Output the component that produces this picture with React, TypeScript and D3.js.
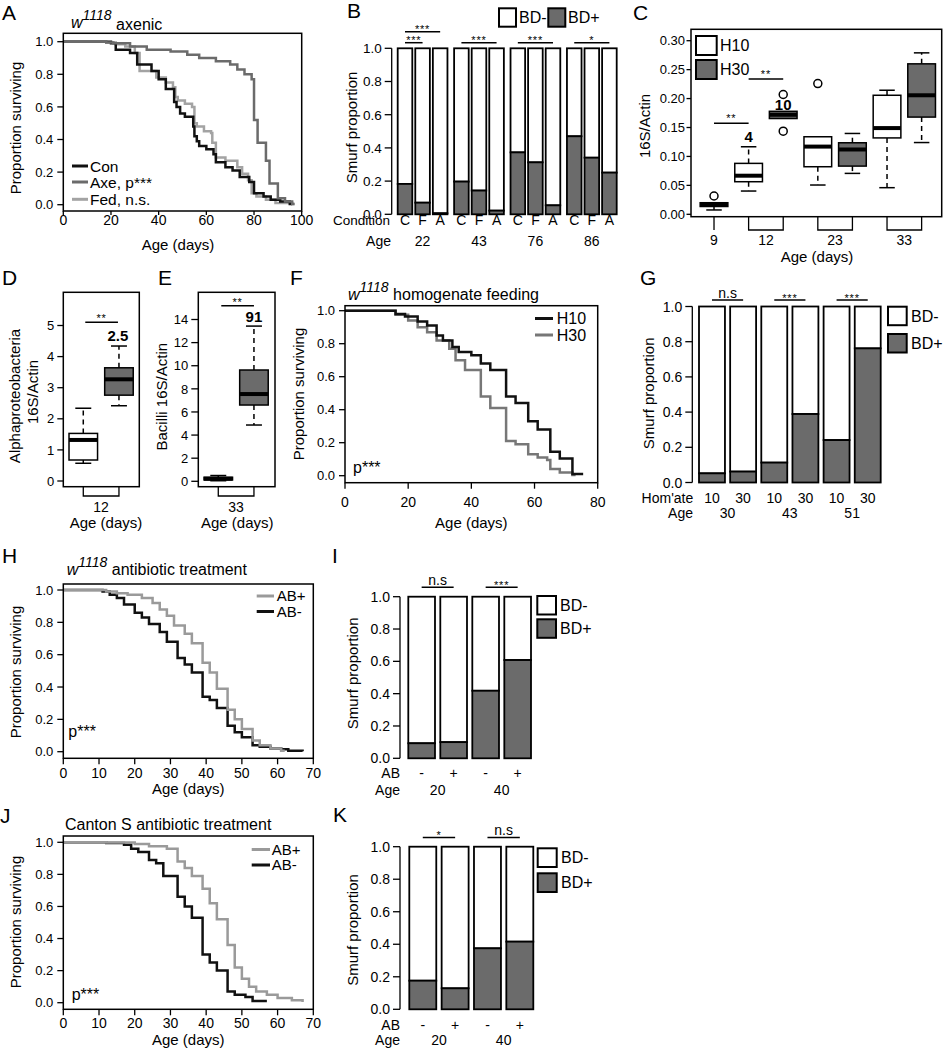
import React from "react";
import * as d3 from "d3";

type Pt = [number, number];

// ---------------- DATA ----------------
// Panel A: Kaplan-Meier steps [age, proportion surviving]
const A_CON: Pt[] = [[0,1],[20,0.99],[22,0.95],[28,0.93],[31,0.86],[37,0.82],[40,0.77],[43,0.71],[46.5,0.63],[47.5,0.6],[49,0.56],[51,0.54],[54.5,0.48],[55,0.42],[56,0.39],[57,0.36],[60,0.34],[63,0.31],[64,0.26],[68,0.23],[71,0.21],[74,0.17],[78,0.14],[80,0.07],[84,0.05],[87,0.03],[91,0.02],[95,0.005],[96,0.005]];
const A_AXE: Pt[] = [[0,1],[18,0.995],[21,0.99],[28,0.97],[35,0.95],[45,0.94],[52,0.92],[57,0.9],[64,0.88],[70,0.86],[73,0.83],[76,0.8],[79,0.77],[80,0.52],[81.5,0.38],[85,0.27],[86.5,0.13],[90,0.04],[93,0.02],[96,0.004],[97,0.004]];
const A_FED: Pt[] = [[0,1],[18,0.995],[22,0.985],[26,0.97],[30,0.93],[32,0.82],[39,0.78],[43,0.75],[46,0.72],[47,0.66],[48,0.64],[51,0.62],[54,0.6],[55,0.5],[56,0.48],[59,0.45],[62,0.44],[62.5,0.38],[64,0.29],[68,0.27],[73,0.23],[75,0.19],[77.5,0.15],[79,0.07],[81,0.05],[85,0.03],[89,0.01],[96,0.004],[97,0.004]];
const A_LEGEND = ["Con", "Axe, p***", "Fed, n.s."];

// Panel B: Smurf proportions (BD+)
const B_AGES = ["22", "43", "76", "86"];
const B_CONDITIONS = ["C", "F", "A"];
const B_BDPLUS_C = [0.183, 0.197, 0.373, 0.47];
const B_BDPLUS_F = [0.07, 0.143, 0.313, 0.341];
const B_BDPLUS_A = [0.006, 0.022, 0.054, 0.251];
const B_SIG_AGE = ["22", "22", "43", "76", "86"];
const B_SIG_TO = ["F", "A", "A", "A", "A"];
const B_SIG_LEVEL = [0, 1, 0, 0, 0];
const B_SIG_LABEL = ["***", "***", "***", "***", "*"];

// Panel C: 16S/Actin boxplots
const C_AGES = ["9", "12", "23", "33"];
const C_BOX_AGE = ["9", "12", "12", "23", "23", "33", "33"];
const C_BOX_GROUP = ["H10", "H10", "H30", "H10", "H30", "H10", "H30"];
const C_LOW = [0.0075, 0.0402, 0.1655, 0.0506, 0.0707, 0.046, 0.124];
const C_Q1 = [0.0135, 0.0563, 0.1655, 0.0822, 0.0833, 0.132, 0.168];
const C_MED = [0.0165, 0.0667, 0.172, 0.117, 0.112, 0.149, 0.2057];
const C_Q3 = [0.02, 0.088, 0.178, 0.134, 0.1236, 0.2057, 0.26];
const C_HIGH = [0.02, 0.1167, 0.178, 0.134, 0.1397, 0.2144, 0.279];
const C_OUTLIERS: number[][] = [[0.0316], [], [0.207, 0.1437], [0.226], [], [], []];
const C_NOTES = ["", "4", "10", "", "", "", ""];

// Panel D: Alphaproteobacteria
const D_GROUP = ["H10", "H30"];
const D_LOW = [0.57, 2.42];
const D_Q1 = [0.675, 2.76];
const D_MED = [1.32, 3.27];
const D_Q3 = [1.53, 3.64];
const D_HIGH = [2.34, 4.34];

// Panel E: Bacilli
const E_GROUP = ["H10", "H30"];
const E_LOW = [0.05, 4.87];
const E_Q1 = [0.12, 6.6];
const E_MED = [0.22, 7.55];
const E_Q3 = [0.35, 9.63];
const E_HIGH = [0.5, 13.43];

// Panel F
const F_H10: Pt[] = [[0,1],[16,0.98],[19,0.965],[23,0.935],[26,0.91],[29,0.85],[31,0.82],[34,0.78],[36,0.75],[40,0.73],[43,0.68],[46,0.64],[51,0.48],[54,0.44],[58,0.33],[61,0.28],[65,0.145],[68,0.105],[72,0.01],[75,0.003]];
const F_H30: Pt[] = [[0,1],[16,0.975],[20,0.94],[23,0.9],[26,0.87],[29,0.82],[33,0.77],[35,0.7],[38,0.64],[43,0.48],[46,0.41],[51,0.21],[54,0.19],[58,0.13],[61,0.11],[64,0.095],[65,0.04],[68,0.02],[72,0.004],[73,0.004]];

// Panel G
const G_HOM = ["10", "30", "10", "30", "10", "30"];
const G_AGES = ["30", "43", "51"];
const G_BDPLUS = [0.052, 0.062, 0.113, 0.389, 0.241, 0.762];
const G_SIG = ["n.s", "***", "***"];

// Panel H
const H_ABP: Pt[] = [[0,1],[12,0.99],[15,0.98],[18,0.97],[22,0.95],[25,0.92],[27,0.88],[29,0.84],[31,0.78],[34,0.73],[36,0.67],[39,0.55],[41,0.49],[43,0.39],[46,0.26],[48,0.2],[50,0.14],[53,0.07],[55,0.04],[58,0.02],[61,0.006],[62,0.006]];
const H_ABM: Pt[] = [[0,1],[11,0.99],[13,0.97],[15,0.95],[17,0.91],[20,0.86],[22,0.83],[24,0.79],[27,0.74],[29,0.68],[32,0.58],[34,0.54],[36,0.49],[39,0.34],[41,0.32],[43,0.27],[46,0.16],[48,0.12],[50,0.09],[53,0.04],[55,0.03],[58,0.02],[61,0.015],[63,0.006],[67,0.003]];

// Panel I
const I_AB = ["-", "+", "-", "+"];
const I_AGES = ["20", "40"];
const I_BDPLUS = [0.093, 0.1, 0.418, 0.608];
const I_SIG = ["n.s", "***"];

// Panel J
const J_ABP: Pt[] = [[0,1],[12,0.998],[20,0.99],[24,0.975],[29,0.96],[32,0.88],[34,0.84],[36,0.79],[39,0.71],[41,0.62],[43,0.52],[46,0.36],[48,0.22],[50,0.15],[52,0.1],[54,0.07],[57,0.05],[60,0.03],[64,0.015],[67,0.005]];
const J_ABM: Pt[] = [[0,1],[12,0.995],[17,0.985],[19,0.96],[21,0.94],[24,0.89],[26,0.87],[28,0.79],[32,0.66],[34,0.6],[36,0.53],[39,0.3],[41,0.25],[43,0.2],[46,0.07],[48,0.05],[51,0.035],[53,0.01],[57,0.01]];

// Panel K
const K_AB = ["-", "+", "-", "+"];
const K_AGES = ["20", "40"];
const K_BDPLUS = [0.176, 0.129, 0.375, 0.416];
const K_SIG = ["*", "n.s"];

// ---------------- STYLE ----------------
const FONT = "'Liberation Sans', Arial, Helvetica, sans-serif";
const BLACK = "#111";
const DARK = "#6b6b6b";
const LIGHT = "#a3a3a3";
const GRAYLINE = "#9a9a9a";
const MIDLINE = "#777";

function YAxis({ x, scale, ticks, fmt, fs = 13, len = 6, gap = 3, line = false }: any) {
  return (
    <g>
      {line && (
        <line x1={x} x2={x} y1={scale(ticks[0])} y2={scale(ticks[ticks.length - 1])} stroke="#000" strokeWidth={1.3} />
      )}
      {ticks.map((t: number) => (
        <g key={t}>
          <line x1={x - len} x2={x} y1={scale(t)} y2={scale(t)} stroke="#000" strokeWidth={1.3} />
          <text x={x - len - gap} y={scale(t) + fs * 0.36} textAnchor="end" fontSize={fs}>
            {fmt(t)}
          </text>
        </g>
      ))}
    </g>
  );
}

function Survival({ l, r, t, b, y0, y1, xMax, xStep, tickLen, xLabBase, titleBase, titleX, yLabX, yLabCY, series }: any) {
  const x = d3.scaleLinear().domain([0, xMax]).range([l, r]);
  const y = d3.scaleLinear().domain([0, 1]).range([y0, y1]);
  const line = d3
    .line<Pt>()
    .x((d) => x(d[0]))
    .y((d) => y(d[1]))
    .curve(d3.curveStepAfter);
  const xt = d3.range(0, xMax + 0.01, xStep);
  return (
    <g>
      {series.map((s: any, i: number) => (
        <path key={i} d={line(s.data) || ""} fill="none" stroke={s.color} strokeWidth={2.5} />
      ))}
      <rect x={l} y={t} width={r - l} height={b - t} fill="none" stroke="#000" strokeWidth={1.5} />
      <YAxis x={l} scale={y} ticks={[0, 0.2, 0.4, 0.6, 0.8, 1]} fmt={(v: number) => v.toFixed(1)} fs={13} len={6} gap={4} />
      {xt.map((v: number) => (
        <g key={v}>
          <line x1={x(v)} x2={x(v)} y1={b} y2={b + tickLen} stroke="#000" strokeWidth={1.3} />
          <text x={x(v)} y={xLabBase} textAnchor="middle" fontSize={14}>
            {v}
          </text>
        </g>
      ))}
      <text x={titleX ?? (l + r) / 2} y={titleBase} textAnchor="middle" fontSize={15}>
        Age (days)
      </text>
      <text transform={`translate(${yLabX},${yLabCY}) rotate(-90)`} textAnchor="middle" fontSize={15}>
        Proportion surviving
      </text>
    </g>
  );
}

function LineLegend({ x1, x2, tx, items, fs = 15 }: any) {
  return (
    <g>
      {items.map((it: any, i: number) => (
        <g key={i}>
          <line x1={x1} x2={x2} y1={it.y} y2={it.y} stroke={it.color} strokeWidth={3} />
          <text x={tx} y={it.y + fs * 0.36} fontSize={fs}>
            {it.label}
          </text>
        </g>
      ))}
    </g>
  );
}

function StackBar({ x, w, v, y }: any) {
  return (
    <g>
      <rect x={x} y={y(1)} width={w} height={y(v) - y(1)} fill="#fff" stroke="#000" strokeWidth={1.8} />
      <rect x={x} y={y(v)} width={w} height={y(0) - y(v)} fill={DARK} stroke="#000" strokeWidth={1.8} />
    </g>
  );
}

function Sig({ x1, x2, y, label, starDy = 1.5 }: any) {
  const stars = label.includes("*");
  return (
    <g>
      <line x1={x1} x2={x2} y1={y} y2={y} stroke="#000" strokeWidth={1.5} />
      <text
        x={(x1 + x2) / 2}
        y={stars ? y + starDy : y - 2.5}
        textAnchor="middle"
        fontSize={stars ? 11 : 14}
        letterSpacing={stars ? 0.8 : 0}
      >
        {label}
      </text>
    </g>
  );
}

function BoxLegend({ x, tops, w, h, labels, tx, fs = 16 }: any) {
  return (
    <g>
      {labels.map((lab: string, i: number) => (
        <g key={lab}>
          <rect x={x} y={tops[i]} width={w} height={h} fill={i === 0 ? "#fff" : DARK} stroke="#000" strokeWidth={2} />
          <text x={tx} y={tops[i] + h / 2 + fs * 0.36} fontSize={fs}>
            {lab}
          </text>
        </g>
      ))}
    </g>
  );
}

function BoxPlot({ cx, w, lo, q1, med, q3, hi, fill, y, outliers = [] }: any) {
  const sw = w * 0.28;
  return (
    <g>
      {hi > q3 && (
        <>
          <line x1={cx} x2={cx} y1={y(q3)} y2={y(hi)} stroke="#000" strokeWidth={1.5} strokeDasharray="5,4" />
          <line x1={cx - sw} x2={cx + sw} y1={y(hi)} y2={y(hi)} stroke="#000" strokeWidth={1.5} />
        </>
      )}
      {lo < q1 && (
        <>
          <line x1={cx} x2={cx} y1={y(q1)} y2={y(lo)} stroke="#000" strokeWidth={1.5} strokeDasharray="5,4" />
          <line x1={cx - sw} x2={cx + sw} y1={y(lo)} y2={y(lo)} stroke="#000" strokeWidth={1.5} />
        </>
      )}
      <rect x={cx - w / 2} y={y(q3)} width={w} height={Math.max(1, y(q1) - y(q3))} fill={fill} stroke="#000" strokeWidth={1.5} />
      <line x1={cx - w / 2} x2={cx + w / 2} y1={y(med)} y2={y(med)} stroke="#000" strokeWidth={4} />
      {outliers.map((o: number, i: number) => (
        <circle key={i} cx={cx} cy={y(o)} r={4} fill="#fff" stroke="#000" strokeWidth={1.5} />
      ))}
    </g>
  );
}

function Letter({ x, y, ch }: any) {
  return (
    <text x={x} y={y} fontSize={21}>
      {ch}
    </text>
  );
}

function WTitle({ x, y, rest, restDy = 0 }: any) {
  return (
    <text x={x} y={y} fontSize={16}>
      <tspan fontStyle="italic">w</tspan>
      <tspan fontStyle="italic" fontSize={14} dy={-8}>
        1118
      </tspan>
      <tspan dy={8 + restDy}>{" " + rest}</tspan>
    </text>
  );
}

export default function App() {
  // ---- B ----
  const bX = d3.scaleBand<string>().domain(B_AGES).range([397.7, 616.7]).paddingInner(0.118);
  const bIn = d3.scaleBand<string>().domain(B_CONDITIONS).range([0, bX.bandwidth()]).paddingInner(0.17);
  const bY = d3.scaleLinear().domain([0, 1]).range([214.3, 48.3]);
  const bVals = [B_BDPLUS_C, B_BDPLUS_F, B_BDPLUS_A];
  const bCenter = (age: string, c: string) => (bX(age) as number) + (bIn(c) as number) + bIn.bandwidth() / 2;

  // ---- C ----
  const cX = d3.scaleLinear().domain([0.335, 7.58]).range([691, 941.7]);
  const cY = d3.scaleLinear().domain([0, 0.3]).range([214.3, 40.7]);
  const cW = cX(1.4) - cX(0.6);
  const cPos = C_BOX_AGE.map((_, i) => i + 1);

  // ---- D ----
  const dX = d3.scaleLinear().domain([0.44, 2.57]).range([63.3, 139.3]);
  const dY = d3.scaleLinear().domain([0, 5]).range([481, 325.5]);
  const dW = dX(1.4) - dX(0.6);

  // ---- E ----
  const eX = d3.scaleLinear().domain([0.44, 2.59]).range([198.3, 275]);
  const eY = d3.scaleLinear().domain([0, 14]).range([481.3, 319.5]);
  const eW = eX(1.4) - eX(0.6);

  // ---- G ----
  const gX = d3.scaleBand<number>().domain(d3.range(G_BDPLUS.length)).range([699, 880.7]).paddingInner(0.167);
  const gY = d3.scaleLinear().domain([0, 1]).range([482.5, 306.5]);
  const gC = (i: number) => (gX(i) as number) + gX.bandwidth() / 2;

  // ---- I ----
  const iX = d3.scaleBand<number>().domain(d3.range(I_BDPLUS.length)).range([408.3, 531]).paddingInner(0.166);
  const iY = d3.scaleLinear().domain([0, 1]).range([758.3, 596.7]);
  const iC = (i: number) => (iX(i) as number) + iX.bandwidth() / 2;

  // ---- K ----
  const kX = d3.scaleBand<number>().domain(d3.range(K_BDPLUS.length)).range([409.3, 533.3]).paddingInner(0.166);
  const kY = d3.scaleLinear().domain([0, 1]).range([1009.3, 846.7]);
  const kC = (i: number) => (kX(i) as number) + kX.bandwidth() / 2;

  const tick01 = [0, 0.2, 0.4, 0.6, 0.8, 1];
  const f1 = (v: number) => v.toFixed(1);

  return (
    <svg
      width={944}
      height={1050}
      style={{ position: "absolute", left: 0, top: 0, display: "block" }}
      fontFamily={FONT}
      fill="#000"
    >
      <rect width={944} height={1050} fill="#fff" />

      {/* ================= A ================= */}
      <Letter x={2} y={20} ch="A" />
      <WTitle x={71} y={28.3} rest="axenic" restDy={1.7} />
      <Survival
        l={63.3} r={301.7} t={33.3} b={211} y0={204.7} y1={41.7}
        xMax={100} xStep={20} tickLen={4} xLabBase={225} titleBase={250} titleX={178}
        yLabX={21} yLabCY={128}
        series={[
          { data: A_FED, color: LIGHT },
          { data: A_CON, color: BLACK },
          { data: A_AXE, color: DARK },
        ]}
      />
      <LineLegend
        x1={72} x2={88} tx={90} fs={15.5}
        items={[
          { y: 166, color: BLACK, label: A_LEGEND[0] },
          { y: 182, color: DARK, label: A_LEGEND[1] },
          { y: 199.3, color: LIGHT, label: A_LEGEND[2] },
        ]}
      />

      {/* ================= B ================= */}
      <Letter x={347} y={18} ch="B" />
      <YAxis x={391.7} scale={bY} ticks={tick01} fmt={f1} fs={13.5} len={7} gap={3} line />
      {B_AGES.map((age, ai) =>
        B_CONDITIONS.map((c, ci) => (
          <StackBar key={age + c} x={(bX(age) as number) + (bIn(c) as number)} w={bIn.bandwidth()} v={bVals[ci][ai]} y={bY} />
        ))
      )}
      {B_SIG_AGE.map((age, i) => (
        <Sig
          key={i}
          x1={bCenter(age, "C")}
          x2={bCenter(age, B_SIG_TO[i])}
          y={B_SIG_LEVEL[i] === 0 ? 42.7 : 31.7}
          label={B_SIG_LABEL[i]}
          starDy={1.5}
        />
      ))}
      <text x={390} y={225} textAnchor="end" fontSize={13.5}>Condition</text>
      {B_AGES.map((age) =>
        B_CONDITIONS.map((c) => (
          <text key={age + c} x={bCenter(age, c)} y={225} textAnchor="middle" fontSize={14}>
            {c}
          </text>
        ))
      )}
      <text x={391} y={246} textAnchor="end" fontSize={14}>Age</text>
      {B_AGES.map((age) => (
        <text key={age} x={(bX(age) as number) + bX.bandwidth() / 2} y={246} textAnchor="middle" fontSize={14}>
          {age}
        </text>
      ))}
      <text transform="translate(357,127.5) rotate(-90)" textAnchor="middle" fontSize={15}>Smurf proportion</text>
      <rect x={499} y={8.3} width={17} height={18.4} fill="#fff" stroke="#000" strokeWidth={2} />
      <text x={519} y={23} fontSize={16}>BD-</text>
      <rect x={548.3} y={8.3} width={17} height={18.4} fill={DARK} stroke="#000" strokeWidth={2} />
      <text x={568} y={23} fontSize={16}>BD+</text>

      {/* ================= C ================= */}
      <Letter x={633} y={20} ch="C" />
      {cPos.map((p, i) => (
        <BoxPlot
          key={i}
          cx={cX(p)} w={cW}
          lo={C_LOW[i]} q1={C_Q1[i]} med={C_MED[i]} q3={C_Q3[i]} hi={C_HIGH[i]}
          fill={C_BOX_GROUP[i] === "H10" ? "#fff" : DARK}
          y={cY}
          outliers={C_OUTLIERS[i]}
        />
      ))}
      <rect x={691} y={29.3} width={250.7} height={187.4} fill="none" stroke="#000" strokeWidth={1.5} />
      <YAxis x={691} scale={cY} ticks={[0, 0.05, 0.1, 0.15, 0.2, 0.25, 0.3]} fmt={(v: number) => v.toFixed(2)} fs={13} len={4.5} gap={1.5} />
      {C_AGES.map((age) => {
        const ps = cPos.filter((_, i) => C_BOX_AGE[i] === age);
        const a = cX(ps[0]);
        const z = cX(ps[ps.length - 1]);
        return (
          <g key={age}>
            <path d={`M${a},216.7V230H${z}V216.7`} fill="none" stroke="#000" strokeWidth={1.3} />
            <text x={(a + z) / 2} y={245} textAnchor="middle" fontSize={14}>{age}</text>
          </g>
        );
      })}
      <text x={817} y={262} textAnchor="middle" fontSize={15}>Age (days)</text>
      <text transform="translate(650,126) rotate(-90)" textAnchor="middle" fontSize={15}>16S/Actin</text>
      <Sig x1={cX(1)} x2={cX(2)} y={123.3} label="**" starDy={-1} />
      <Sig x1={cX(2)} x2={cX(3)} y={79} label="**" starDy={-1} />
      {cPos.map((p, i) =>
        C_NOTES[i] ? (
          <text key={i} x={cX(p)} y={i === 1 ? 141.7 : 110} textAnchor="middle" fontSize={15} fontWeight="bold">
            {C_NOTES[i]}
          </text>
        ) : null
      )}
      <BoxLegend x={696} tops={[36, 60]} w={20.7} h={19} labels={["H10", "H30"]} tx={720} />

      {/* ================= D ================= */}
      <Letter x={2} y={285} ch="D" />
      {D_GROUP.map((g, i) => (
        <BoxPlot key={g} cx={dX(i + 1)} w={dW} lo={D_LOW[i]} q1={D_Q1[i]} med={D_MED[i]} q3={D_Q3[i]} hi={D_HIGH[i]} fill={i === 0 ? "#fff" : DARK} y={dY} />
      ))}
      <rect x={63.3} y={292.3} width={76} height={194.4} fill="none" stroke="#000" strokeWidth={1.5} />
      <YAxis x={63.3} scale={dY} ticks={[0, 1, 2, 3, 4, 5]} fmt={(v: number) => String(v)} fs={13} len={6} gap={3} />
      <path d={`M${dX(1)},486.7V496H${dX(2)}V486.7`} fill="none" stroke="#000" strokeWidth={1.3} />
      <text x={(dX(1) + dX(2)) / 2} y={511.5} textAnchor="middle" fontSize={14}>12</text>
      <text x={106} y={527.5} textAnchor="middle" fontSize={15}>Age (days)</text>
      <text transform="translate(19.5,396) rotate(-90)" textAnchor="middle" fontSize={15}>Alphaproteobacteria</text>
      <text transform="translate(38,392) rotate(-90)" textAnchor="middle" fontSize={15}>16S/Actin</text>
      <Sig x1={dX(1) + 2} x2={dX(2) - 1} y={322.3} label="**" starDy={0} />
      <text x={dX(2) - 1} y={341} textAnchor="middle" fontSize={15} fontWeight="bold">2.5</text>

      {/* ================= E ================= */}
      <Letter x={158} y={285} ch="E" />
      {E_GROUP.map((g, i) => (
        <BoxPlot key={g} cx={eX(i + 1)} w={eW} lo={E_LOW[i]} q1={E_Q1[i]} med={E_MED[i]} q3={E_Q3[i]} hi={E_HIGH[i]} fill={i === 0 ? "#fff" : DARK} y={eY} />
      ))}
      <rect x={198.3} y={292.3} width={76.7} height={194.4} fill="none" stroke="#000" strokeWidth={1.5} />
      <YAxis x={198.3} scale={eY} ticks={[0, 2, 4, 6, 8, 10, 12, 14]} fmt={(v: number) => String(v)} fs={13} len={7} gap={3} />
      <path d={`M${eX(1)},486.7V496H${eX(2)}V486.7`} fill="none" stroke="#000" strokeWidth={1.3} />
      <text x={(eX(1) + eX(2)) / 2} y={511.5} textAnchor="middle" fontSize={14}>33</text>
      <text x={237.3} y={527.5} textAnchor="middle" fontSize={15}>Age (days)</text>
      <text transform="translate(167,396.7) rotate(-90)" textAnchor="middle" fontSize={15}>Bacilli 16S/Actin</text>
      <Sig x1={eX(1) + 3} x2={eX(2)} y={305.7} label="**" starDy={0} />
      <text x={eX(2)} y={321.5} textAnchor="middle" fontSize={15} fontWeight="bold">91</text>

      {/* ================= F ================= */}
      <Letter x={290} y={285} ch="F" />
      <WTitle x={348} y={300} rest="homogenate feeding" />
      <Survival
        l={345} r={597.7} t={305.7} b={482.7} y0={475.7} y1={310.7}
        xMax={80} xStep={20} tickLen={6} xLabBase={506.5} titleBase={528}
        yLabX={303.5} yLabCY={394}
        series={[
          { data: F_H30, color: MIDLINE },
          { data: F_H10, color: BLACK },
        ]}
      />
      <LineLegend
        x1={535} x2={553} tx={556.7} fs={16}
        items={[
          { y: 318.5, color: BLACK, label: "H10" },
          { y: 335, color: MIDLINE, label: "H30" },
        ]}
      />
      <text x={353} y={473} fontSize={16}>p***</text>

      {/* ================= G ================= */}
      <Letter x={640} y={285} ch="G" />
      <YAxis x={692.3} scale={gY} ticks={tick01} fmt={f1} fs={14} len={7} gap={3} line />
      {G_BDPLUS.map((v, i) => (
        <StackBar key={i} x={gX(i)} w={gX.bandwidth()} v={v} y={gY} />
      ))}
      {G_SIG.map((s, k) => (
        <Sig key={k} x1={gC(2 * k)} x2={gC(2 * k + 1)} y={300} label={s} />
      ))}
      <text x={693.3} y={503.3} textAnchor="end" fontSize={14}>Hom'ate</text>
      {G_HOM.map((h, i) => (
        <text key={i} x={gC(i)} y={503.3} textAnchor="middle" fontSize={14}>{h}</text>
      ))}
      <text x={693} y={518} textAnchor="end" fontSize={14}>Age</text>
      {G_AGES.map((a, k) => (
        <text key={k} x={(gC(2 * k) + gC(2 * k + 1)) / 2} y={518} textAnchor="middle" fontSize={14}>{a}</text>
      ))}
      <text transform="translate(654,393.3) rotate(-90)" textAnchor="middle" fontSize={15}>Smurf proportion</text>
      <BoxLegend x={888} tops={[306.7, 334]} w={18.7} h={18.5} labels={["BD-", "BD+"]} tx={911} />

      {/* ================= H ================= */}
      <Letter x={2} y={563} ch="H" />
      <WTitle x={66.7} y={575} rest="antibiotic treatment" />
      <Survival
        l={63.3} r={313.3} t={584} b={758.3} y0={751.7} y1={590}
        xMax={70} xStep={10} tickLen={6} xLabBase={778} titleBase={794}
        yLabX={21} yLabCY={672}
        series={[
          { data: H_ABM, color: BLACK },
          { data: H_ABP, color: GRAYLINE },
        ]}
      />
      <LineLegend
        x1={256.7} x2={274} tx={276.7}
        items={[
          { y: 596, color: GRAYLINE, label: "AB+" },
          { y: 611.5, color: BLACK, label: "AB-" },
        ]}
      />
      <text x={68.3} y={736.5} fontSize={16}>p***</text>

      {/* ================= I ================= */}
      <Letter x={332} y={563} ch="I" />
      <YAxis x={400} scale={iY} ticks={tick01} fmt={f1} fs={14} len={7} gap={3} line />
      {I_BDPLUS.map((v, i) => (
        <StackBar key={i} x={iX(i)} w={iX.bandwidth()} v={v} y={iY} />
      ))}
      {I_SIG.map((s, k) => (
        <Sig key={k} x1={iC(2 * k)} x2={iC(2 * k + 1)} y={587.3} label={s} />
      ))}
      <text x={400} y={778} textAnchor="end" fontSize={14}>AB</text>
      {I_AB.map((a, i) => (
        <text key={i} x={iC(i)} y={778} textAnchor="middle" fontSize={14}>{a}</text>
      ))}
      <text x={400} y={795} textAnchor="end" fontSize={14}>Age</text>
      {I_AGES.map((a, k) => (
        <text key={k} x={(iC(2 * k) + iC(2 * k + 1)) / 2} y={795} textAnchor="middle" fontSize={14}>{a}</text>
      ))}
      <text transform="translate(358,673.3) rotate(-90)" textAnchor="middle" fontSize={15}>Smurf proportion</text>
      <BoxLegend x={537.3} tops={[596, 619.3]} w={18.7} h={18.5} labels={["BD-", "BD+"]} tx={560} />

      {/* ================= J ================= */}
      <Letter x={0} y={823} ch="J" />
      <text x={65} y={830} fontSize={16}>Canton S antibiotic treatment</text>
      <Survival
        l={63.3} r={313.3} t={836} b={1009.3} y0={1002.7} y1={842.3}
        xMax={70} xStep={10} tickLen={6} xLabBase={1028} titleBase={1045}
        yLabX={21} yLabCY={922}
        series={[
          { data: J_ABM, color: BLACK },
          { data: J_ABP, color: GRAYLINE },
        ]}
      />
      <LineLegend
        x1={251.7} x2={270} tx={271.7}
        items={[
          { y: 849.5, color: GRAYLINE, label: "AB+" },
          { y: 865, color: BLACK, label: "AB-" },
        ]}
      />
      <text x={71.7} y={1000} fontSize={16}>p***</text>

      {/* ================= K ================= */}
      <Letter x={333} y={822} ch="K" />
      <YAxis x={400} scale={kY} ticks={tick01} fmt={f1} fs={14} len={7} gap={3} line />
      {K_BDPLUS.map((v, i) => (
        <StackBar key={i} x={kX(i)} w={kX.bandwidth()} v={v} y={kY} />
      ))}
      {K_SIG.map((s, k) => (
        <Sig key={k} x1={kC(2 * k)} x2={kC(2 * k + 1)} y={837.5} label={s} />
      ))}
      <text x={400} y={1030} textAnchor="end" fontSize={14}>AB</text>
      {K_AB.map((a, i) => (
        <text key={i} x={kC(i)} y={1030} textAnchor="middle" fontSize={14}>{a}</text>
      ))}
      <text x={400} y={1045} textAnchor="end" fontSize={14}>Age</text>
      {K_AGES.map((a, k) => (
        <text key={k} x={(kC(2 * k) + kC(2 * k + 1)) / 2} y={1045} textAnchor="middle" fontSize={14}>{a}</text>
      ))}
      <text transform="translate(358,930) rotate(-90)" textAnchor="middle" fontSize={15}>Smurf proportion</text>
      <BoxLegend x={537.7} tops={[848.3, 873.3]} w={19} h={18.7} labels={["BD-", "BD+"]} tx={561} />
    </svg>
  );
}
